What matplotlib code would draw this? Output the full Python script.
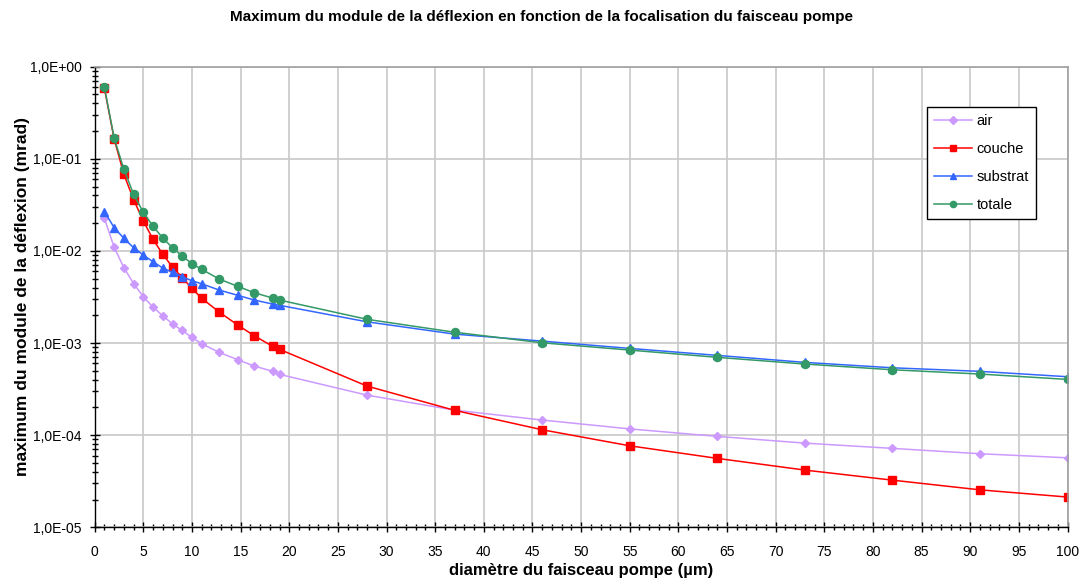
import matplotlib
matplotlib.use("Agg")
import math
import matplotlib.pyplot as plt
from matplotlib.ticker import FuncFormatter, MultipleLocator, LogLocator, NullFormatter

plt.rcParams['font.family'] = ['Liberation Sans', 'DejaVu Sans']

x = [1, 2, 3, 4, 5, 6, 7, 8, 9, 10, 11, 12.8, 14.7, 16.4, 18.3, 19,
     28, 37, 46, 55, 64, 73, 82, 91, 100]

air = [0.0226, 0.01094, 0.00657, 0.00443, 0.00318, 0.00245, 0.00198, 0.00161,
       0.00137, 0.00115, 0.000982, 0.000792, 0.000659, 0.000563, 0.000493, 0.000457,
       2.72e-4, 1.87e-4, 1.46e-4, 1.17e-4, 9.70e-5, 8.20e-5, 7.19e-5, 6.29e-5, 5.68e-5]

couche = [0.58, 0.164, 0.0679, 0.0360, 0.0211, 0.01336, 0.00919, 0.00668,
          0.00512, 0.00392, 0.00306, 0.00217, 0.00157, 0.00120, 0.00092, 0.000855,
          3.41e-4, 1.86e-4, 1.145e-4, 7.67e-5, 5.60e-5, 4.18e-5, 3.25e-5, 2.55e-5, 2.13e-5]

substrat = [0.0267, 0.0179, 0.0137, 0.01083, 0.00902, 0.00763, 0.00652, 0.00586,
            0.00525, 0.00474, 0.00440, 0.00376, 0.00330, 0.00293, 0.00265, 0.00257,
            1.70e-3, 1.25e-3, 1.05e-3, 8.75e-4, 7.35e-4, 6.17e-4, 5.39e-4, 4.93e-4, 4.31e-4]

totale = [0.597, 0.168, 0.0769, 0.0412, 0.0262, 0.0185, 0.0138, 0.01083,
          0.00881, 0.00726, 0.00631, 0.00495, 0.00413, 0.00352, 0.00308, 0.00293,
          1.81e-3, 1.31e-3, 1.007e-3, 8.39e-4, 7.0e-4, 5.92e-4, 5.13e-4, 4.61e-4, 4.03e-4]

labels = ["air", "couche", "substrat", "totale"]
title = "Maximum du module de la déflexion en fonction de la focalisation du faisceau pompe"
xlabel = "diamètre du faisceau pompe (µm)"
ylabel = "maximum du module de la déflexion (mrad)"

fig = plt.figure(figsize=(10.84, 5.80), dpi=100)
ax = fig.add_axes([94.7 / 1084, 1 - 527.3 / 580, (1067.5 - 94.7) / 1084, (527.3 - 66.7) / 580])

styles = [
    (air, "#CC99FF", "D", 3.8),
    (couche, "#FF0000", "s", 5.5),
    (substrat, "#3366FF", "^", 6.2),
    (totale, "#339966", "o", 5.8),
]
for (ys, col, mk, ms), lab in zip(styles, labels):
    ax.plot(x, ys, color=col, lw=1.1, marker=mk, ms=ms, mec=col, mfc=col, label=lab)

ax.set_yscale("log")
ax.set_xlim(0, 100)
ax.set_ylim(1e-5, 1.0)

ax.xaxis.set_major_locator(MultipleLocator(5))
ax.xaxis.set_minor_locator(MultipleLocator(1))
ax.yaxis.set_major_locator(LogLocator(base=10, numticks=10))
ax.yaxis.set_minor_locator(LogLocator(base=10, subs=range(2, 10), numticks=20))
ax.yaxis.set_minor_formatter(NullFormatter())


def yfmt(v, pos):
    k = int(round(math.log10(v)))
    return "1,0E{:+03d}".format(k)


ax.yaxis.set_major_formatter(FuncFormatter(yfmt))

ax.grid(True, which="major", color="#C8C8C8", lw=1.2)
ax.set_axisbelow(True)

ax.tick_params(axis="both", which="major", direction="inout", length=7, width=1,
               labelsize=10, colors="black", pad=5)
ax.tick_params(axis="both", which="minor", direction="inout", length=5, width=1)
ax.tick_params(axis="x", which="major", pad=9)
ax.tick_params(axis="y", which="major", pad=6)

for s in ["top", "right"]:
    ax.spines[s].set_color("#A0A0A0")
    ax.spines[s].set_linewidth(1.2)
for s in ["left", "bottom"]:
    ax.spines[s].set_color("black")
    ax.spines[s].set_linewidth(1.0)

ax.set_xlabel(xlabel, fontsize=12, fontweight="bold", labelpad=3)
ax.set_ylabel(ylabel, fontsize=12.5, fontweight="bold", labelpad=0)
fig.text(542 / 1084, 1 - 17 / 580, title, ha="center", va="center",
         fontsize=11, fontweight="bold")

leg = ax.legend(loc="upper right", bbox_to_anchor=(0.968, 0.9125), fontsize=10.5,
                frameon=True, fancybox=False, edgecolor="black", framealpha=1,
                handlelength=2.6, labelspacing=0.95, borderpad=0.5, handletextpad=0.3,
                borderaxespad=0)
leg.get_frame().set_linewidth(1.0)
for h in leg.legend_handles:
    h.set_markersize(4.5)

fig.savefig("out.png", dpi=100)
